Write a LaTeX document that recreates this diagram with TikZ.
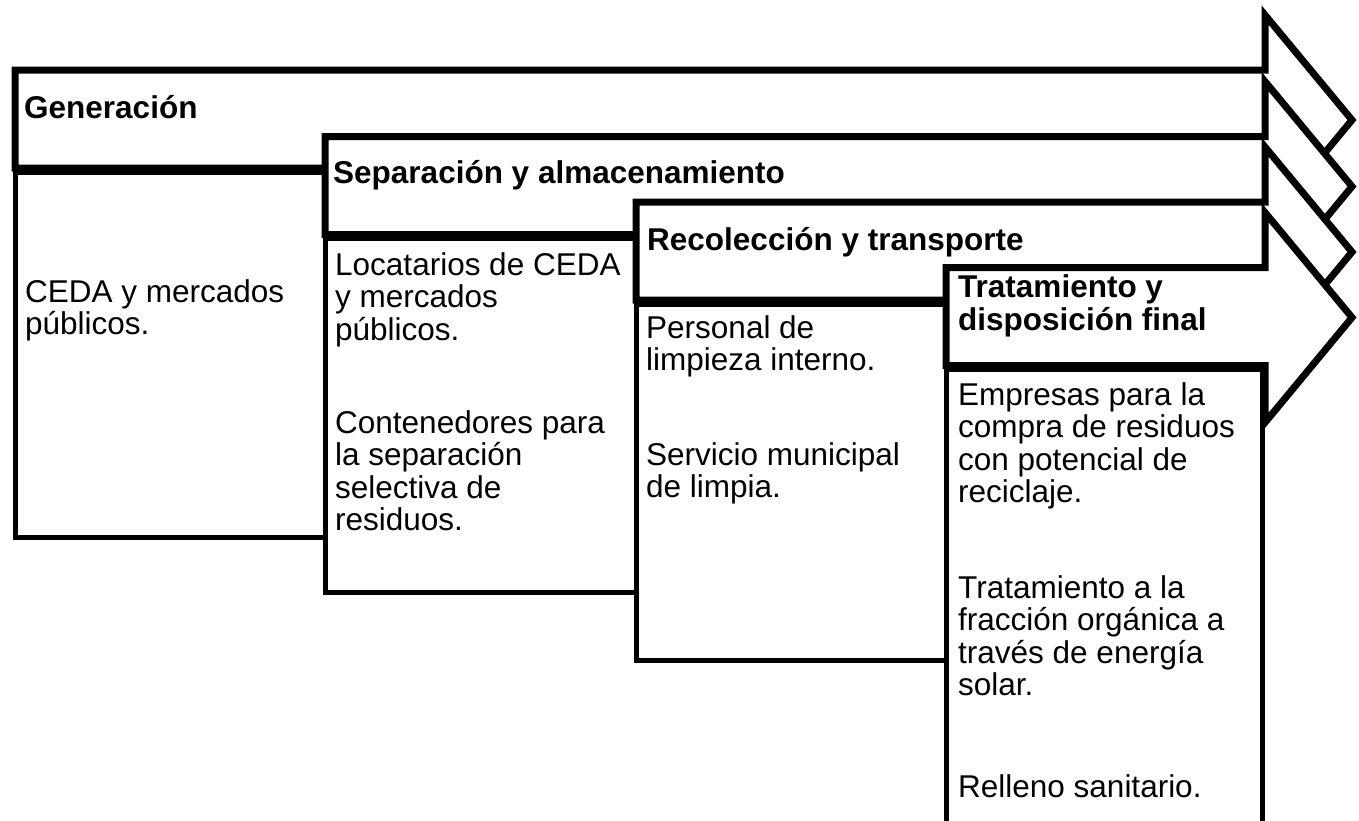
\documentclass[tikz,border=0pt]{standalone}
\usepackage{fontspec}
\setmainfont{Liberation Sans}
\newcommand{\stagefont}{\fontsize{31.5}{33}\selectfont\bfseries}
\newcommand{\bodyfont}{\fontsize{31.5}{32.5}\selectfont}
\newcommand{\lines}[1]{\parbox[t]{12cm}{#1}}

\begin{document}
\begin{tikzpicture}[x=1pt,y=-1pt,
  stage/.style={draw, fill=white, line width=7pt},
  panel/.style={draw, fill=white, line width=5pt},
  txt/.style={anchor=base west, inner sep=0pt}]
\useasboundingbox (0,0) rectangle (1359,820);
\clip (0,0) rectangle (1359,820);

% Generacion
\draw[stage] (15,70) -- (1265,70) -- (1265,15) -- (1352,120)
  -- (1265,225) -- (1265,168) -- (15,168) -- cycle;
\draw[panel] (15,172) rectangle (325,537);

% Separacion y almacenamiento
\draw[stage] (325,136.5) -- (1265,136.5) -- (1265,81.5) -- (1352,186.5)
  -- (1265,291.5) -- (1265,234.5) -- (325,234.5) -- cycle;
\draw[panel] (325,238.5) rectangle (636,592);

% Recoleccion y transporte
\draw[stage] (636,202) -- (1265,202) -- (1265,147) -- (1352,252)
  -- (1265,357) -- (1265,300) -- (636,300) -- cycle;
\draw[panel] (636,304) rectangle (946,660);

% Tratamiento y disposicion final
\draw[stage] (946,267.5) -- (1265,267.5) -- (1265,212.5) -- (1352,317.5)
  -- (1265,422.5) -- (1265,365.5) -- (946,365.5) -- cycle;
\draw[panel] (946,369.5) rectangle (1262,840);

\node[txt, font=\stagefont] (gen) at (24,118) {Generación};
\node[txt, font=\stagefont] (sep) at (333,183) {Separación y almacenamiento};
\node[txt, font=\stagefont] (rec) at (647,250) {Recolección y transporte};
\node[txt, font=\stagefont] (tra) at (958,297) {\lines{Tratamiento y\\disposición final}};

\node[txt, font=\bodyfont] (gen-a) at (25,302) {\lines{CEDA y mercados\\públicos.}};
\node[txt, font=\bodyfont] (sep-a) at (335,275) {\lines{Locatarios de CEDA\\y mercados\\públicos.}};
\node[txt, font=\bodyfont] (sep-b) at (335,433) {\lines{Contenedores para\\la separación\\selectiva de\\residuos.}};
\node[txt, font=\bodyfont] (rec-a) at (646,338) {\lines{Personal de\\limpieza interno.}};
\node[txt, font=\bodyfont] (rec-b) at (646,465) {\lines{Servicio municipal\\de limpia.}};
\node[txt, font=\bodyfont] (tra-a) at (958,405) {\lines{Empresas para la\\compra de residuos\\con potencial de\\reciclaje.}};
\node[txt, font=\bodyfont] (tra-b) at (958,598) {\lines{Tratamiento a la\\fracción orgánica a\\través de energía\\solar.}};
\node[txt, font=\bodyfont] (tra-c) at (958,797) {Relleno sanitario.};
\end{tikzpicture}
\end{document}
